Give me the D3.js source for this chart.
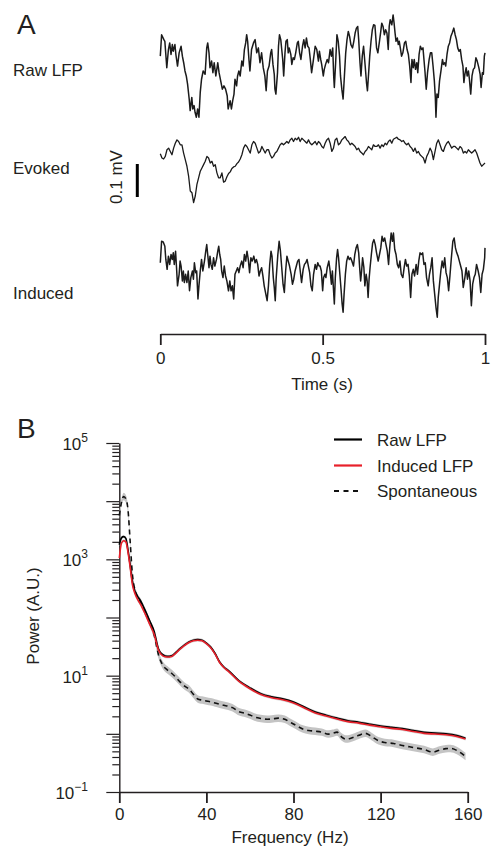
<!DOCTYPE html>
<html>
<head>
<meta charset="utf-8">
<script src="https://cdn.jsdelivr.net/npm/d3@7"></script>
<style>
body { margin: 0; background: #fff; }
svg { font-family: "Liberation Sans", Arial, sans-serif; }
</style>
</head>
<body>
<svg id="fig" width="492" height="849"></svg>
<script>
// ---- panel A : single trial LFP, [time ms, microvolts] ----
var rawLFP = [[0,42],[4,107],[11,92],[14,87],[20,7],[25,62],[29,82],[33,47],[37,77],[40,57],[45,77],[48,47],[53,12],[58,52],[64,72],[68,42],[72,22],[76,-3],[80,-18],[84,-43],[89,-88],[92,-123],[97,-83],[100,-118],[104,-108],[107,-128],[111,-143],[115,-118],[119,-143],[123,-68],[127,-28],[132,-3],[138,-13],[143,67],[146,82],[150,52],[153,7],[158,27],[162,-8],[166,22],[171,-18],[177,22],[181,-8],[186,-33],[191,-58],[196,-48],[201,-58],[206,-78],[209,-118],[215,-93],[219,-118],[223,-93],[227,-73],[230,-28],[235,-48],[238,-18],[242,-3],[246,-18],[251,27],[255,12],[259,62],[263,82],[266,107],[269,87],[273,32],[276,-3],[281,62],[287,82],[292,92],[297,52],[302,67],[307,22],[312,52],[317,7],[322,-18],
  [326,-63],[330,-3],[335,12],[340,52],[343,62],[347,17],[351,-13],[353,-58],[356,-73],[361,-8],[364,72],[367,107],[371,92],[374,62],[377,32],[380,-18],[384,52],[387,87],[391,92],[394,52],[397,67],[402,47],[405,17],[409,37],[413,32],[417,52],[422,82],[425,87],[429,52],[433,32],[438,72],[442,92],[446,67],[450,97],[454,72],[458,67],[462,32],[466,-8],[471,27],[477,72],[482,62],[487,27],[490,57],[494,32],[497,17],[502,-18],[505,2],[509,17],[514,32],[518,22],[523,62],[527,42],[531,67],[534,-18],[536,-53],[540,22],[544,107],[548,87],[552,42],[555,-18],[559,-58],[563,-88],[567,-18],[571,52],[575,92],[579,117],[583,102],[587,77],[592,67],[596,87],[600,112],[604,127],[608,132],[611,92],[615,22],[618,-18],[622,42],[626,72],[631,12],[635,-38],[638,-63],[641,-18],[645,42],[649,87],[653,122],[657,137],
  [661,135],[666,67],[670,52],[675,87],[679,117],[682,142],[686,132],[690,107],[694,122],[698,112],[702,62],[705,132],[708,152],[713,137],[717,167],[720,142],[723,112],[726,87],[730,97],[733,77],[736,87],[740,62],[743,42],[747,52],[752,82],[756,87],[760,62],[764,47],[768,12],[772,-38],[775,32],[779,7],[782,32],[786,2],[790,22],[793,-8],[797,47],[801,72],[805,62],[809,67],[812,32],[815,-3],[819,-58],[823,-8],[828,32],[832,52],[836,52],[840,12],[844,-33],[847,-83],[849,-143],[852,-73],[856,-83],[860,-33],[865,2],[869,32],[872,17],[876,22],[879,12],[883,47],[887,72],[891,82],[895,102],[899,112],[904,127],[908,107],[912,92],[916,67],[920,57],[924,62],[928,32],[932,12],[935,-38],[938,-13],[942,7],[945,-18],[949,-3],[952,-28],[956,-73],[960,-18],[964,2],[968,7],[972,37],[976,27],[981,7],[985,-13],[988,-53],[992,-8],[995,-13],[998,42],[1000,52]];

// evoked: evenly sampled over 0..1000 ms
var evokedLFP = [19,6,3,11,31,36,26,16,36,51,61,56,46,46,21,1,-19,-49,-94,-99,-129,-109,-74,-54,-34,-24,-14,-4,11,6,-9,-4,-19,-14,-39,-54,-54,-39,-67,-64,-51,-41,-36,-26,-21,-19,-11,-6,3,16,36,46,41,31,21,46,56,51,36,21,26,41,31,21,31,31,16,6,11,21,26,36,46,51,46,51,56,51,61,66,56,66,61,69,56,66,61,56,51,61,51,46,51,56,46,56,51,41,36,51,61,66,51,26,36,61,66,46,51,61,66,71,61,56,46,51,46,41,31,36,26,21,16,26,31,41,36,31,46,41,41,46,36,46,41,51,46,56,61,51,63,66,69,63,61,56,59,51,46,51,41,36,26,36,21,26,16,11,6,-9,11,21,36,26,1,26,51,61,46,31,26,41,51,56,46,36,41,41,36,31,41,36,21,26,21,31,26,21,26,31,21,6,-9,-19,-14,-9];

var inducedLFP = [[0,22],[4,87],[9,85],[14,72],[17,32],[21,2],[25,42],[29,17],[33,47],[37,32],[40,52],[43,17],[47,57],[50,7],[53,-48],[58,-13],[61,27],[64,12],[68,-33],[71,-3],[74,-38],[78,-13],[82,-38],[86,-3],[90,-63],[94,-23],[99,-3],[102,-28],[105,22],[109,-8],[112,-3],[116,-88],[119,-48],[123,-3],[127,32],[131,-3],[136,27],[140,57],[143,77],[146,47],[150,7],[153,42],[156,17],[160,2],[164,37],[168,12],[173,32],[177,57],[180,72],[183,47],[186,32],[189,-3],[193,-23],[197,12],[201,-18],[205,-33],[210,-63],[214,-33],[218,-63],[222,-48],[226,-88],[230,-13],[234,-3],[238,7],[242,-8],[246,12],[251,27],[255,7],[259,47],[263,27],[267,57],[271,32],[275,-8],[279,37],[283,27],[288,42],[292,22],[296,32],[300,17],[304,-18],[308,-3],[312,7],[316,-18],[320,-48],[325,-73],[329,-93],[333,-48],[337,17],[341,57],[344,42],[348,-23],[351,-53],[354,-93],[357,-23],[362,47],[366,87],[370,57],[374,7],[378,-43],[382,-68],[386,-3],[390,42],[394,27],[398,12],[403,-13],[407,-43],[411,-28],[415,-3],[419,12],[423,27],[427,32],[431,-3],[435,-38],[440,2],[444,17],[448,22],[452,32],[456,12],[460,-8],[464,-48],[468,-63],[472,-13],[477,17],[481,2],[485,22],[489,12],
  [492,12],[496,-3],[500,-63],[503,-23],[507,-13],[510,-23],[514,7],[519,27],[523,-3],[527,-43],[530,-3],[533,-53],[536,-103],[539,-23],[543,37],[546,62],[549,37],[553,-13],[557,-63],[560,-103],[563,-128],[566,-73],[570,-13],[574,27],[578,42],[582,32],[586,37],[590,27],[595,12],[599,47],[603,67],[607,77],[611,52],[614,7],[617,-33],[620,-3],[623,37],[627,7],[630,-48],[634,-13],[637,-33],[640,-83],[643,-28],[646,7],[650,47],[654,82],[658,92],[662,77],[666,52],[671,27],[675,47],[679,67],[683,102],[687,87],[691,97],[695,77],[699,57],[703,17],[707,72],[711,112],[715,87],[718,112],[722,62],[726,47],[730,17],[734,7],[738,27],[742,-13],[747,-23],[751,7],[755,32],[759,12],[763,17],[767,-18],[771,-83],[775,-13],[779,2],[783,-18],[788,17],[792,-13],[796,27],[800,52],[804,47],[808,52],[812,17],[816,22],[820,-23],[825,-48],[829,-13],[833,7],[837,37],[841,-33],[845,-73],[849,-113],[853,-143],[856,-83],[860,-43],[864,-3],[868,27],[872,7],[876,37],[880,-8],[884,-23],[888,-63],[892,-18],[896,32],[901,87],[905,97],[909,67],[913,52],[917,42],[921,27],[925,12],[929,-3],[933,-53],[938,-23],[942,7],[946,-28],[950,-3],[954,-33],[958,-108],[962,-43],[966,-23],[970,-13],[974,17],[979,-3],[983,-23],[987,-68],[991,-13],[995,2],[999,37],[1000,67]];

var traceNames = ["Raw LFP", "Evoked", "Induced"];
var timeTicks = [0, 500, 1000];
var timeTickLabels = ["0", "0.5", "1"];
var scaleBarUV = 100;

// ---- panel B : power spectra ----
var freqs = [0,1,2,3,4,5,6,7,8,10,12,14,16,18,20,22,24,26,28,30,32,34,36,38,40,42,44,46,48,50,55,60,65,70,75,80,85,90,95,100,105,110,115,120,125,130,135,140,145,150,155,159];
var rawPower = [1778,2344,2455,2291,1445,794,417,295,245,186,129,87,57.5,28.8,22.9,21.4,21.9,25.1,29.5,33.9,38.0,40.7,41.7,40.7,36.3,30.9,24.0,17.4,14.1,12.3,8.13,6.17,4.90,4.32,3.98,3.51,2.88,2.37,2.09,1.86,1.68,1.58,1.46,1.36,1.29,1.23,1.14,1.06,1.03,1.00,0.933,0.841];
var inducedPower = [1047,1905,2089,1995,1318,724,372,269,219,162,112,75.9,51.3,27.5,21.9,20.9,21.4,24.5,28.8,33.1,37.2,39.8,40.7,39.8,35.5,30.2,23.4,17.0,13.8,12.0,7.94,5.96,4.73,4.17,3.85,3.39,2.79,2.29,2.02,1.80,1.62,1.53,1.41,1.32,1.24,1.19,1.10,1.02,0.993,0.966,0.902,0.813];
var spontFreqs = [0,1,2,3,4,5,6,7,8,10,12,14,16,18,20,22,24,26,28,30,32,34,36,38,40,42,44,46,48,50,52,55,58,60,62,65,68,70,73,76,78,81,84,87,90,93,96,98,100,102,104,106,108,110,113,116,119,122,126,130,135,140,144,147,150,152,155,159];
var spontPower = [5623,9550,12020,10960,7079,1995,562,316,240,178,123,81.3,50.1,22.9,15.1,12.6,11.0,9.33,7.76,6.61,5.89,4.79,3.98,3.80,3.67,3.55,3.39,3.24,3.09,2.99,2.82,2.40,2.24,2.11,1.95,1.84,1.78,1.80,1.86,1.78,1.62,1.41,1.22,1.14,1.11,1.07,0.989,1.02,1.07,0.891,0.813,0.832,0.881,0.944,1.02,0.891,0.759,0.708,0.684,0.631,0.582,0.537,0.484,0.525,0.556,0.562,0.519,0.407];
// s.e.m. envelope, as a ratio around each mean
var semRatio = { raw: 1.06, induced: 1.06, spont: 1.16 };
var freqTicks = [0, 40, 80, 120, 160];
var powerExps = [5, 3, 1, -1];
var legendNames = ["Raw LFP", "Induced LFP", "Spontaneous"];

var ink = "#231f20";
var svg = d3.select("#fig");

// ================= panel A =================
var xT = d3.scaleLinear().domain([0, 1000]).range([160.3, 485]);
var uv = d3.scaleLinear().domain([0, 100]).range([0, 33]); // 0.1 mV = 33 px
var bases = [70, 160, 270];

var trace = function(base) {
  return d3.line()
    .x(function(d) { return xT(d[0]); })
    .y(function(d) { return base - uv(d[1]); });
};

var dt = 1000 / (evokedLFP.length - 1);
var evokedPts = evokedLFP.map(function(v, i) { return [i * dt, v]; });
var series = [rawLFP, evokedPts, inducedLFP];

series.forEach(function(s, i) {
  svg.append("path")
    .datum(s)
    .attr("d", trace(bases[i]))
    .style("fill", "none")
    .attr("stroke", "#1b1b1b")
    .style("stroke-width", i === 1 ? "1.3px" : "1.5px")
    .style("stroke-linejoin", "round");
});

var rowLabelY = [76, 174, 299];
traceNames.forEach(function(n, i) {
  svg.append("text").attr("x", 13).attr("y", rowLabelY[i])
    .attr("font-size", 17).attr("fill", ink).text(n);
});

// scale bar
svg.append("line")
  .attr("x1", 137.3).attr("x2", 137.3)
  .attr("y1", 197).attr("y2", 197 - uv(scaleBarUV))
  .attr("stroke", "#000").style("stroke-width", "3px");
svg.append("text")
  .attr("transform", "translate(122,177) rotate(-90)")
  .attr("text-anchor", "middle")
  .attr("font-size", 17).attr("fill", ink).text("0.1 mV");

var gT = svg.append("g").attr("transform", "translate(0,334)");
gT.call(d3.axisBottom(xT).tickValues(timeTicks).tickSize(11).tickSizeOuter(0)
  .tickFormat(function(d, i) { return timeTickLabels[i]; }));
gT.select(".domain").attr("stroke", ink).style("stroke-width", "1.4px");
gT.selectAll(".tick line").attr("stroke", ink).style("stroke-width", "1.8px");
gT.selectAll(".tick text").attr("font-size", 17).attr("fill", ink)
  .attr("font-family", "Liberation Sans, Arial, sans-serif").attr("y", 18);

svg.append("text").attr("x", 322).attr("y", 390).attr("text-anchor", "middle")
  .attr("font-size", 17).attr("fill", ink).text("Time (s)");

svg.append("text").attr("x", 17).attr("y", 34).attr("font-size", 28).attr("fill", ink).text("A");
svg.append("text").attr("x", 17).attr("y", 438).attr("font-size", 28).attr("fill", ink).text("B");

// ================= panel B =================
var xF = d3.scaleLinear().domain([0, 160]).range([119.3, 467.7]);
var yP = d3.scaleLog().domain([0.1, 1e5]).range([792, 443]);

var logTicks = [];
for (var e = -1; e < 5; e++) {
  for (var m = 1; m < 10; m++) logTicks.push(m * Math.pow(10, e));
}
logTicks.push(1e5);

var gY = svg.append("g").attr("transform", "translate(119.3,0)");
gY.call(d3.axisLeft(yP).tickValues(logTicks).tickSizeOuter(0).tickFormat(""));
gY.select(".domain").attr("stroke", ink).style("stroke-width", "1.4px");
gY.selectAll(".tick line")
  .attr("stroke", ink).style("stroke-width", "1.2px")
  .attr("x2", function(d) { var l = Math.log10(d); return Math.abs(l - Math.round(l)) < 1e-9 ? -13 : -7; });

powerExps.forEach(function(ex) {
  var t = svg.append("text").attr("x", 88).attr("y", yP(Math.pow(10, ex)) + 7)
    .attr("text-anchor", "end").attr("font-size", 17).attr("fill", ink);
  t.append("tspan").text("10");
  t.append("tspan").attr("dy", -8).attr("font-size", 12).text(ex < 0 ? "\u2212" + (-ex) : ex);
});

var gF = svg.append("g").attr("transform", "translate(0,792)");
gF.call(d3.axisBottom(xF).tickValues(freqTicks).tickSize(11).tickSizeOuter(0));
gF.select(".domain").attr("stroke", ink).style("stroke-width", "1.4px");
gF.selectAll(".tick line").attr("stroke", ink).style("stroke-width", "1.8px");
gF.selectAll(".tick text").attr("font-size", 17).attr("fill", ink)
  .attr("font-family", "Liberation Sans, Arial, sans-serif").attr("y", 16);

svg.append("text").attr("x", 290).attr("y", 843).attr("text-anchor", "middle")
  .attr("font-size", 17).attr("fill", ink).text("Frequency (Hz)");
svg.append("text")
  .attr("transform", "translate(39,616) rotate(-90)")
  .attr("text-anchor", "middle")
  .attr("font-size", 17).attr("fill", ink).text("Power (A.U.)");

var band = function(fs, r) {
  return d3.area().curve(d3.curveMonotoneX)
    .x(function(d, i) { return xF(fs[i]); })
    .y0(function(d) { return yP(d / r); })
    .y1(function(d) { return yP(d * r); });
};
var spec = function(fs) {
  return d3.line().curve(d3.curveMonotoneX)
    .x(function(d, i) { return xF(fs[i]); })
    .y(function(d) { return yP(d); });
};

svg.append("path").datum(spontPower).attr("d", band(spontFreqs, semRatio.spont))
  .attr("fill", "#c4c4c4");
svg.append("path").datum(rawPower).attr("d", band(freqs, semRatio.raw))
  .attr("fill", "#c8c8c8");
svg.append("path").datum(inducedPower).attr("d", band(freqs, semRatio.induced))
  .attr("fill", "#d2d2d2").attr("opacity", 0.8);

svg.append("path").datum(spontPower).attr("d", spec(spontFreqs))
  .style("fill", "none").attr("stroke", "#111").style("stroke-width", "1.6px")
  .style("stroke-dasharray", "5,4");
svg.append("path").datum(rawPower).attr("d", spec(freqs))
  .style("fill", "none").attr("stroke", "#000").style("stroke-width", "1.7px");
svg.append("path").datum(inducedPower).attr("d", spec(freqs))
  .style("fill", "none").attr("stroke", "#e8202a").style("stroke-width", "1.6px");

// legend
var legColors = ["#000", "#e8202a", "#111"];
var legY = [439.5, 465.5, 491];
legendNames.forEach(function(n, i) {
  svg.append("line").attr("x1", 334).attr("x2", 362).attr("y1", legY[i]).attr("y2", legY[i])
    .attr("stroke", legColors[i]).style("stroke-width", "2.2px")
    .style("stroke-dasharray", i === 2 ? "5,4.5" : null);
  svg.append("text").attr("x", 377).attr("y", legY[i] + 6)
    .attr("font-size", 17).attr("fill", ink).text(n);
});
</script>
</body>
</html>
